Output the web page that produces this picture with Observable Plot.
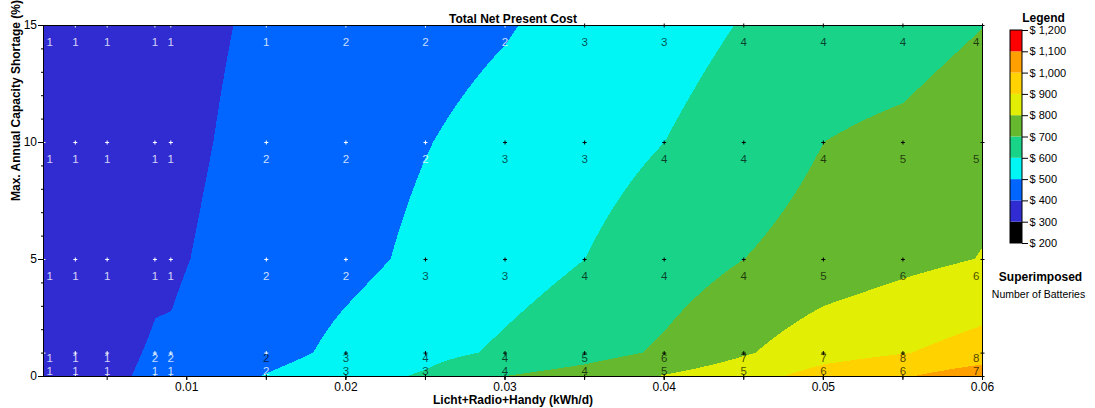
<!DOCTYPE html>
<html>
<head>
<meta charset="utf-8">
<script src="https://cdn.jsdelivr.net/npm/d3@7"></script>
<script src="https://cdn.jsdelivr.net/npm/@observablehq/plot@0.6"></script>
<style>
  body { margin: 0; background: #fff; font-family: "Liberation Sans", Arial, sans-serif; }
  #wrap { display: flex; width: 1095px; height: 408px; }
  #wrap svg { display: block; }
</style>
</head>
<body>
<div id="wrap"></div>
<script>
// Sensitivity grid: daily load (kWh/d) × max. annual capacity shortage (%)
const loads = [0.001, 0.003, 0.005, 0.008, 0.009, 0.015, 0.02, 0.025, 0.03, 0.035, 0.04, 0.045, 0.05, 0.055, 0.06];
const shortages = [0, 1, 5, 10, 15];

// Total net present cost ($) of the optimal system, one row per shortage level
const npcShort0  = [350, 368, 388, 412, 420, 505, 560, 612, 700, 740, 805, 860, 940, 990, 1060];
const npcShort1  = [345, 362, 382, 407, 408, 465, 525, 570, 615, 660, 715, 790, 860, 895, 940];
const npcShort5  = [330, 342, 358, 388, 390, 440, 475, 520, 560, 600, 650, 700, 740, 775, 803];
const npcShort10 = [325, 335, 350, 370, 378, 428, 462, 497, 530, 565, 600, 645, 700, 725, 775];
const npcShort15 = [320, 330, 345, 365, 372, 415, 445, 470, 494, 530, 565, 605, 640, 650, 698];

// Superimposed variable: number of batteries in the optimal system
const battShort0  = [1, 1, 1, 2, 2, 2, 3, 4, 4, 5, 6, 7, 7, 8, 8];
const battShort1  = [1, 1, 1, 1, 1, 2, 3, 3, 4, 4, 5, 5, 6, 6, 7];
const battShort5  = [1, 1, 1, 1, 1, 2, 2, 3, 3, 4, 4, 4, 5, 6, 6];
const battShort10 = [1, 1, 1, 1, 1, 2, 2, 2, 3, 3, 4, 4, 4, 5, 5];
const battShort15 = [1, 1, 1, 1, 1, 1, 2, 2, 2, 3, 3, 4, 4, 4, 4];

// Colour bands of the cost surface
const npcBreaks = [200, 300, 400, 500, 600, 700, 800, 900, 1000, 1100, 1200];
const bandColors = ["#000000", "#302cd2", "#0066ff", "#00f6f4", "#19d389", "#66b82e", "#e2ee04", "#ffd200", "#ffa000", "#ff0000"];

// Axis ticks
const xTicks = [0.01, 0.02, 0.03, 0.04, 0.05, 0.06];
const xMinorTicks = [0.005, 0.01, 0.015, 0.02, 0.025, 0.03, 0.035, 0.04, 0.045, 0.05, 0.055, 0.06];
const yTicks = [0, 5, 10, 15];
const yMinorTicks = [0, 1, 2, 3, 4, 5, 6, 7, 8, 9, 10, 11, 12, 13, 14, 15];

const npcGrid = [npcShort0, npcShort1, npcShort5, npcShort10, npcShort15];
const battGrid = [battShort0, battShort1, battShort5, battShort10, battShort15];

// Bilinear interpolation of the cost surface between grid points
function npcAt(x, y) {
  const i = Math.max(0, Math.min(loads.length - 2, d3.bisectRight(loads, x) - 1));
  const j = Math.max(0, Math.min(shortages.length - 2, d3.bisectRight(shortages, y) - 1));
  const tx = Math.max(0, Math.min(1, (x - loads[i]) / (loads[i + 1] - loads[i])));
  const ty = Math.max(0, Math.min(1, (y - shortages[j]) / (shortages[j + 1] - shortages[j])));
  const a = npcGrid[j][i], b = npcGrid[j][i + 1];
  const c = npcGrid[j + 1][i], d = npcGrid[j + 1][i + 1];
  return a * (1 - tx) * (1 - ty) + b * tx * (1 - ty) + c * (1 - tx) * ty + d * tx * ty;
}

const points = [];
shortages.forEach((s, j) => loads.forEach((l, i) => {
  points.push({load: l, shortage: s, npc: npcGrid[j][i], n: battGrid[j][i]});
}));

const xMin = loads[0], xMax = loads[loads.length - 1];
const colorScale = {type: "threshold", domain: npcBreaks.slice(1, -1), range: bandColors};
const font = '"Liberation Sans", Arial, sans-serif';

// Battery counts: light text on the cheap (blue) systems, dark text elsewhere;
// labels sit below each marker, above it on the bottom row, and are kept inside the frame at the sides.
function labelMarks(tone) {
  const light = tone === "light";
  const fill = light ? "#ffffff" : "#000000";
  const opacity = light ? 0.8 : 0.7;
  const ofTone = d => (d.npc < 500) === light;
  const sides = [
    {keep: d => d.load === xMin, textAnchor: "start", dx: 3},
    {keep: d => d.load > xMin && d.load < xMax, textAnchor: "middle", dx: 0},
    {keep: d => d.load === xMax, textAnchor: "end", dx: -3}
  ];
  const rows = [
    {keep: d => d.shortage > 1, dy: 17},
    {keep: d => d.shortage === 1, dy: 18},
    {keep: d => d.shortage === 0, dy: -18}
  ];
  const marks = [Plot.dot(points.filter(ofTone), {x: "load", y: "shortage", symbol: "plus", r: 1.4, stroke: fill, strokeWidth: 1})];
  for (const side of sides) {
    for (const row of rows) {
      marks.push(Plot.text(points.filter(d => ofTone(d) && side.keep(d) && row.keep(d)), {
        x: "load", y: "shortage", text: "n", dx: side.dx, dy: row.dy, textAnchor: side.textAnchor,
        fill, fillOpacity: opacity, fontSize: 11.5
      }));
    }
  }
  return marks;
}

const main = Plot.plot({
  width: 995,
  height: 408,
  marginLeft: 43,
  marginRight: 13,
  marginTop: 25,
  marginBottom: 32,
  x: {domain: [xMin, xMax]},
  y: {domain: [0, 15]},
  color: colorScale,
  style: {fontFamily: font, fontSize: "12px", color: "#000", background: "#fff", overflow: "visible"},
  marks: [
    Plot.raster({fill: npcAt, x1: xMin, x2: xMax, y1: 0, y2: 15, pixelSize: 1, imageRendering: "pixelated"}),
    ...labelMarks("light"),
    ...labelMarks("dark"),
    Plot.frame({stroke: "#000", strokeWidth: 1}),
    Plot.axisX({ticks: xMinorTicks, tickSize: 4, tickFormat: () => "", label: null}),
    Plot.axisX({ticks: xTicks, tickSize: 4, tickPadding: 2, tickFormat: d3.format(".2f"), label: null}),
    Plot.axisY({ticks: yMinorTicks, tickSize: 2, tickFormat: () => "", label: null}),
    Plot.axisY({ticks: yTicks, tickSize: 5, tickPadding: 1.5, label: null}),
    Plot.text(["Total Net Present Cost"], {frameAnchor: "top", dy: -11, fontWeight: "bold", fontSize: 12}),
    Plot.text(["Licht+Radio+Handy (kWh/d)"], {frameAnchor: "bottom", dy: 27, fontWeight: "bold", fontSize: 12}),
    Plot.text(["Max. Annual Capacity Shortage (%)"], {frameAnchor: "left", dx: -27, rotate: -90, fontWeight: "bold", fontSize: 12})
  ]
});

// Colour key on the right
const legendBands = npcBreaks.slice(0, -1).map((lo, i) => ({lo, hi: npcBreaks[i + 1]}));
const legend = Plot.plot({
  width: 100,
  height: 408,
  margin: 0,
  x: {domain: [0, 100], range: [0, 100], axis: null},
  y: {domain: [200, 1200], range: [243, 30], axis: null},
  color: colorScale,
  style: {fontFamily: font, fontSize: "11px", color: "#000", background: "#fff", overflow: "visible"},
  marks: [
    Plot.rect(legendBands, {x1: 15, x2: 27, y1: "lo", y2: "hi", fill: "lo"}),
    Plot.rect([0], {x1: 15, x2: 27, y1: 200, y2: 1200, stroke: "#000", fill: "none"}),
    Plot.ruleY(npcBreaks, {x1: 27, x2: 33, stroke: "#000"}),
    Plot.text(npcBreaks, {y: d => d, x: 34, text: d => "$ " + d3.format(",")(d), textAnchor: "start", fontSize: 11}),
    Plot.text(["Legend"], {x: 48, frameAnchor: "top", dy: 13, fontWeight: "bold", fontSize: 12}),
    Plot.text(["Superimposed"], {x: 45, frameAnchor: "top", dy: 272, fontWeight: "bold", fontSize: 12}),
    Plot.text(["Number of Batteries"], {x: 43, frameAnchor: "top", dy: 290, fontSize: 10.5})
  ]
});

const wrap = document.getElementById("wrap");
wrap.appendChild(main);
wrap.appendChild(legend);
</script>
</body>
</html>
